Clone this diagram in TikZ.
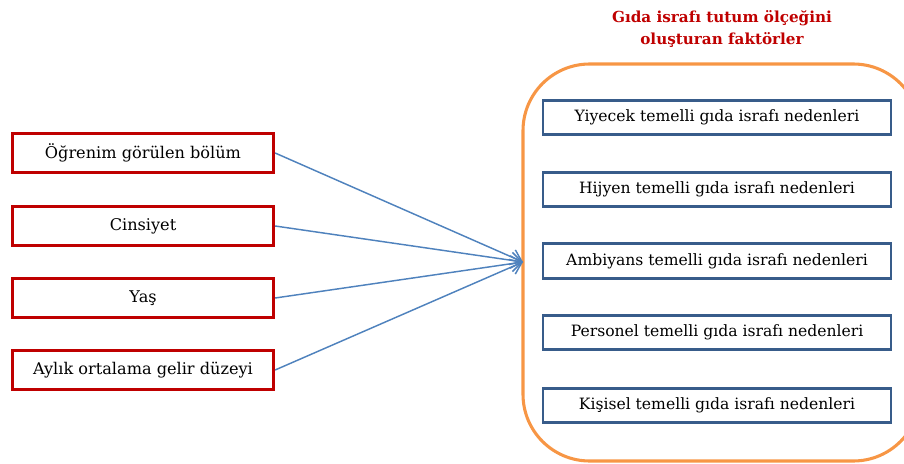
\documentclass[tikz,border=0pt]{standalone}
\usepackage{fontspec}
\setmainfont{DejaVu Serif}
\usetikzlibrary{arrows.meta,calc}
\definecolor{FactorClr}{rgb}{0.75,0,0}
\definecolor{CauseClr}{rgb}{0.22,0.36,0.54}
\definecolor{FrameClr}{rgb}{0.97,0.59,0.27}
\definecolor{LinkClr}{rgb}{0.31,0.51,0.74}

\tikzset{
  factor/.style={draw=FactorClr,line width=2.2pt,minimum width=196pt,minimum height=29.5pt,
    inner sep=0pt,font=\fontsize{12.1}{14}\selectfont},
  cause/.style={draw=CauseClr,line width=2.2pt,minimum width=261pt,minimum height=26pt,
    inner sep=0pt,font=\fontsize{11.7}{14}\selectfont},
  link/.style={draw=LinkClr,line width=1.1pt,-{Straight Barb[length=8pt,width=12pt,line width=1.1pt]}}
}

\begin{document}
\begin{tikzpicture}[x=0.75pt,y=-0.75pt]
\useasboundingbox (0,0) rectangle (904,464);

% title
\node[text=FactorClr,font=\bfseries\fontsize{11.4}{16.5}\selectfont,align=center] (title) at (722,29)
  {Gıda israfı tutum ölçeğini\\oluşturan faktörler};

% orange frame
\draw[FrameClr,line width=2.3pt,rounded corners=50pt] (523,64) rectangle (920,461);
\coordinate (target) at (523,262);

% left side
\node[factor] (bolum) at (143,153) {Öğrenim görülen bölüm};
\node[factor] (cinsiyet) at (143,226) {Cinsiyet};
\node[factor] (yas) at (143,298) {Yaş};
\node[factor] (gelir) at (143,370) {Aylık ortalama gelir düzeyi};

% right side
\node[cause] (yiyecek) at (717,117.5) {Yiyecek temelli gıda israfı nedenleri};
\node[cause] (hijyen) at (717,189.5) {Hijyen temelli gıda israfı nedenleri};
\node[cause] (ambiyans) at (717,261) {Ambiyans temelli gıda israfı nedenleri};
\node[cause] (personel) at (717,332.5) {Personel temelli gıda israfı nedenleri};
\node[cause] (kisisel) at (717,405.5) {Kişisel temelli gıda israfı nedenleri};

% arrows
\foreach \n in {bolum,cinsiyet,yas,gelir}
  \draw[link] (\n.east) -- (target);

\end{tikzpicture}
\end{document}
